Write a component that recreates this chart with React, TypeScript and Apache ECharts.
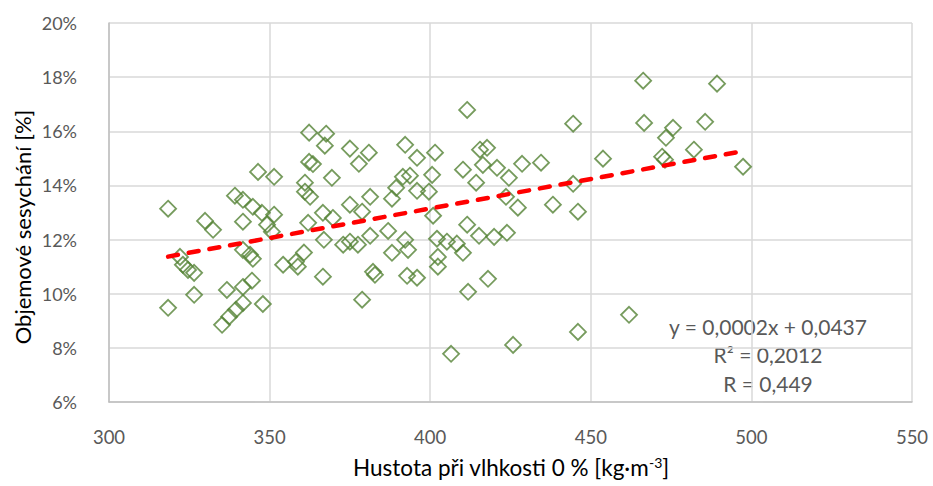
import React, { useEffect, useRef } from "react";
import * as echarts from "echarts";

// Hustota při vlhkosti 0 % [kg·m-3]
const density = [
  318.4, 318.4, 322.1, 323.0, 324.6, 326.5, 326.5, 329.9, 332.4, 336.7,
  335.2, 337.4, 339.5, 341.7, 341.7, 344.5, 339.2, 341.7, 344.8, 341.7,
  341.7, 343.9, 344.8, 346.4, 347.6, 347.9, 349.2, 350.7, 351.4, 351.4,
  354.2, 358.2, 358.8, 360.7, 361.0, 361.0, 362.6, 362.3, 363.5, 362.3,
  367.6, 367.2, 369.4, 362.0, 366.6, 369.7, 366.6, 366.9, 372.9, 375.0,
  377.5, 375.0, 378.8, 381.3, 381.3, 386.9, 375.0, 380.9, 377.8, 378.8,
  382.2, 382.8, 388.1, 388.1, 389.4, 391.5, 393.7, 400.6, 395.9, 399.6,
  392.2, 395.9, 401.5, 392.2, 393.1, 392.8, 395.9, 400.9, 402.1, 405.2,
  402.4, 402.4, 408.3, 410.2, 411.5, 415.2, 419.9, 423.9, 411.8, 418.0,
  406.5, 425.8, 446.0, 461.9, 411.5, 415.5, 417.7, 416.4, 420.8, 410.2,
  414.3, 424.5, 428.6, 434.5, 423.6, 427.3, 438.2, 446.0, 444.5, 444.5,
  453.8, 466.3, 489.3, 466.6, 475.6, 485.6, 473.4, 472.2, 473.1, 482.1,
  497.4,
];

// Objemové sesychání [%]
const shrinkage = [
  13.14, 9.48, 11.36, 11.07, 10.88, 10.77, 9.96, 12.69, 12.36, 10.14,
  8.85, 9.15, 9.41, 9.66, 10.25, 10.48, 13.62, 13.47, 13.21, 12.66,
  11.62, 11.44, 11.29, 14.5, 12.99, 9.62, 12.55, 12.29, 14.32, 12.92,
  11.07, 11.18, 11.0, 11.52, 14.1, 13.77, 13.58, 14.87, 14.79, 15.95,
  15.91, 15.47, 14.28, 12.62, 12.99, 12.8, 10.63, 11.99, 11.81, 11.92,
  11.81, 13.29, 13.03, 13.58, 12.14, 12.32, 15.36, 15.21, 14.8, 9.78,
  10.81, 10.7, 11.51, 13.51, 13.91, 14.32, 14.36, 14.39, 13.8, 13.77,
  15.5, 15.02, 15.21, 11.99, 11.62, 10.66, 10.59, 12.88, 12.03, 11.92,
  11.36, 11.0, 11.85, 11.51, 12.55, 12.14, 12.1, 12.25, 10.07, 10.55,
  7.78, 8.11, 8.59, 9.22, 16.79, 15.32, 15.39, 14.76, 14.65, 14.58,
  14.1, 14.28, 14.8, 14.84, 13.58, 13.18, 13.29, 13.03, 14.06, 16.28,
  14.99, 17.87, 17.76, 16.31, 16.13, 16.35, 15.76, 15.06, 14.95, 15.32,
  14.69,
];

// Linear trend line end points
const trendX = [318.4, 497.4];
const trendY = [11.37, 15.27];

const equationLines = ["y = 0,0002x + 0,0437", "R² = 0,2012", "R = 0,449"];

const FONT = "Lato, 'Open Sans', sans-serif";

export default function App() {
  const ref = useRef<HTMLDivElement>(null);

  useEffect(() => {
    if (!ref.current) return;
    const chart = echarts.init(ref.current, null, { renderer: "svg" });
    const points = density.map((x, i) => [x, shrinkage[i]]);
    const trend = trendX.map((x, i) => [x, trendY[i]]);

    chart.setOption({
      animation: false,
      backgroundColor: "#ffffff",
      grid: { left: 109, right: 21, top: 23, bottom: 84, containLabel: false },
      xAxis: {
        type: "value",
        min: 300,
        max: 550,
        interval: 50,
        axisLine: { show: true, lineStyle: { color: "#BFBFBF", width: 1.5 } },
        axisTick: { show: false },
        axisLabel: { color: "#595959", fontSize: 18.5, fontFamily: FONT, margin: 25 },
        splitLine: { show: true, lineStyle: { color: "#D9D9D9", width: 1.5 } },
      },
      yAxis: {
        type: "value",
        min: 6,
        max: 20,
        interval: 2,
        axisLine: { show: true, lineStyle: { color: "#BFBFBF", width: 1.5 } },
        axisTick: { show: false },
        axisLabel: {
          color: "#595959",
          fontSize: 18,
          fontFamily: FONT,
          margin: 32,
          formatter: "{value}%",
        },
        splitLine: { show: true, lineStyle: { color: "#D9D9D9", width: 1.5 } },
      },
      series: [
        {
          type: "scatter",
          data: points,
          symbol: "diamond",
          symbolSize: 16,
          itemStyle: {
            color: "rgba(0,0,0,0)",
            borderColor: "#548235",
            borderWidth: 1.8,
          },
          z: 2,
        },
        {
          type: "line",
          data: trend,
          showSymbol: false,
          symbol: "none",
          lineStyle: { color: "#FF0000", width: 4.5, type: [10, 11], cap: "round" },
          z: 3,
        },
      ],
      graphic: [
        {
          type: "text",
          x: 22,
          y: 227,
          rotation: Math.PI / 2,
          style: {
            text: "Objemové sesychání [%]",
            fontSize: 22,
            fontFamily: FONT,
            fill: "#000000",
            align: "center",
            verticalAlign: "middle",
          },
        },
        {
          type: "text",
          x: 511,
          y: 467,
          style: {
            text: "Hustota při vlhkosti 0 % [kg·m{sup|-3}]",
            fontSize: 22.5,
            fontFamily: FONT,
            fill: "#000000",
            align: "center",
            verticalAlign: "middle",
            rich: {
              sup: { fontSize: 14, fontFamily: FONT, fill: "#000000", verticalAlign: "top" },
            },
          },
        },
        ...equationLines.map((t, i) => ({
          type: "text",
          x: 768,
          y: 326 + i * 28.5,
          style: {
            text: t,
            fontSize: 21,
            fontFamily: FONT,
            fill: "#595959",
            align: "center",
            verticalAlign: "middle",
          },
        })),
      ],
    });
    return () => chart.dispose();
  }, []);

  return (
    <div
      ref={ref}
      style={{ position: "absolute", left: 0, top: 0, width: 933, height: 486 }}
    />
  );
}
